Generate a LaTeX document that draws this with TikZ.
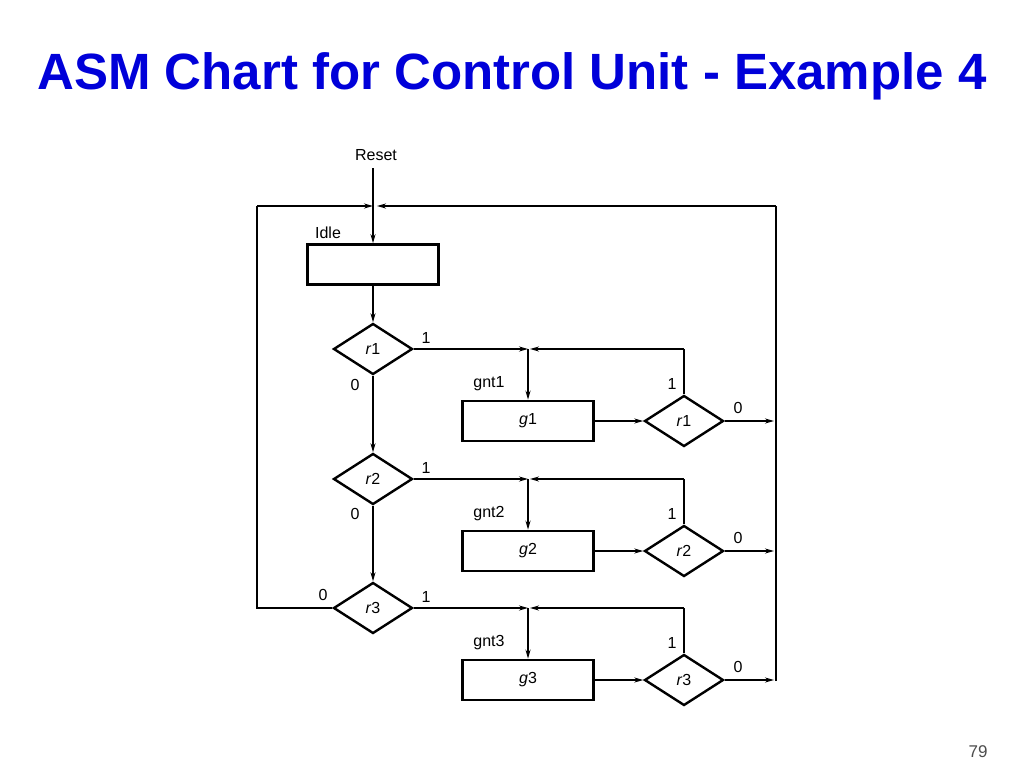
\documentclass[tikz,border=0pt]{standalone}
\usepackage{fontspec}
\setmainfont{Liberation Sans}
\usetikzlibrary{shapes.geometric,arrows.meta}
\begin{document}
\begin{tikzpicture}[x=1pt,y=-1pt,
 box/.style={draw,line width=2.6pt,minimum width=131pt,minimum height=40pt,inner sep=0pt,font=\fontsize{16}{18}\selectfont},
 dec/.style={draw,diamond,line width=2.4pt,minimum width=79pt,minimum height=51pt,inner sep=0pt,aspect=1.55,font=\fontsize{16}{18}\selectfont},
 lab/.style={font=\fontsize{16}{18}\selectfont},
 ln/.style={line width=1.8pt},
 ar/.style={ln,-{Stealth[length=9pt,width=5pt]}}]
\useasboundingbox (0,0) rectangle (1024,768);
\node[font=\bfseries\fontsize{51}{58}\selectfont,text=blue!85!black] (title) at (512,76) {ASM Chart for Control Unit - Example 4};
\node[lab] (reset) at (376,155) {Reset};
\node[lab] (idlel) at (328,233) {Idle};
\node[box] (idle) at (373,264.5) {};
\coordinate (rs) at (373,168);
\coordinate (top) at (373,206);
\coordinate (rtop) at (776,206);
\coordinate (ltop) at (257,206);
\foreach \i/\dy in {1/0,2/130,3/259}{
 \node[dec] (r\i) at (373,349+\dy) {\textit{r}\i};
 \node[box] (g\i) at (528,421+\dy) {\textit{g}\i};
 \node[dec] (q\i) at (684,421+\dy) {\textit{r}\i};
 \node[lab] (gl\i) at (489,384+\dy) {gnt\i};
 \node[lab] (o\i) at (426,338+\dy) {1};
 \node[lab] (qo\i) at (672,384+\dy) {1};
 \node[lab] (qz\i) at (738,408+\dy) {0};
 \coordinate (j\i) at (528,349+\dy);
 \coordinate (k\i) at (684,349+\dy);
 \coordinate (e\i) at (774,421+\dy);
 \draw[ar] (r\i.east) -- (j\i);
 \draw[ar] (j\i) -- (g\i.north);
 \draw[ln] (q\i.north) -- (k\i);
 \draw[ar] (k\i) -- ([xshift=2pt]j\i);
 \draw[ar] (g\i.east) -- (q\i.west);
 \draw[ar] (q\i.east) -- (e\i);
}
\node[lab] (z1) at (355,385) {0};
\node[lab] (z2) at (355,514) {0};
\node[lab] (z3) at (323,595) {0};
\draw[ar] (rs) -- (idle.north);
\draw[ar] (idle.south) -- (r1.north);
\draw[ar] (r1.south) -- (r2.north);
\draw[ar] (r2.south) -- (r3.north);
\draw[ln] (r3.west) -| (ltop);
\draw[ar] (ltop) -- (top);
\coordinate (rbot) at (776,681);
\draw[ln] (rbot) -- (rtop);
\draw[ar] (rtop) -- ([xshift=4pt]top);
\node[font=\fontsize{17}{19}\selectfont,text=black!70] (pg) at (978,752) {79};
\end{tikzpicture}
\end{document}
